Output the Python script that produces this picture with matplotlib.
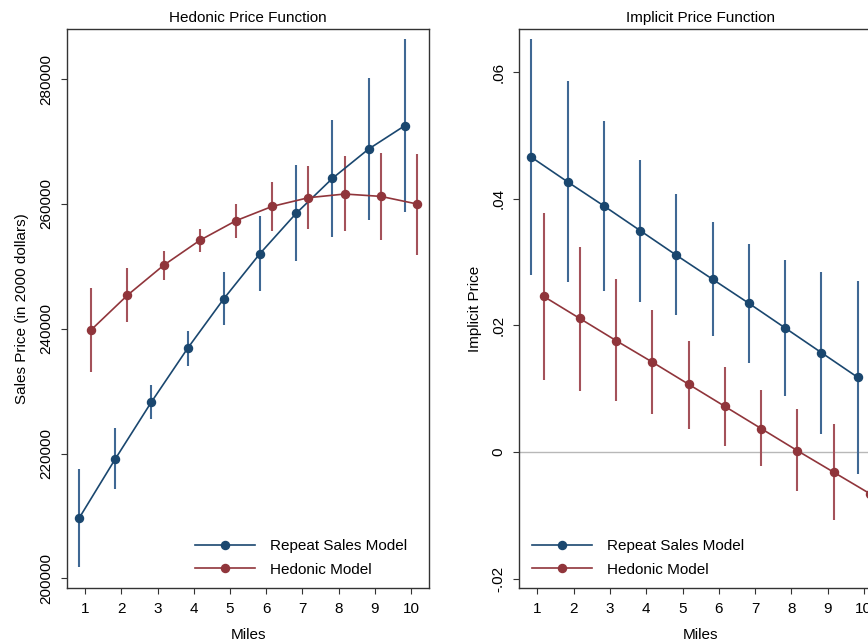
import matplotlib
matplotlib.use("Agg")
import matplotlib.pyplot as plt
import numpy as np

plt.rcParams['font.family'] = ['Liberation Sans', 'DejaVu Sans']

miles = [1, 2, 3, 4, 5, 6, 7, 8, 9, 10]

# Hedonic price function (left panel)
rs_price = [209600, 219100, 228250, 236850, 244800, 252050, 258500, 264100, 268800, 272550]
rs_price_lo = [201760, 214240, 225540, 234080, 240530, 246020, 250820, 254720, 257490, 258660]
rs_price_hi = [217500, 224050, 230980, 239570, 249060, 258020, 266240, 273490, 280210, 286450]
hd_price = [239840, 245380, 250180, 254180, 257330, 259620, 261010, 261600, 261220, 260000]
hd_price_lo = [233120, 241060, 247780, 252320, 254560, 255730, 256050, 255620, 254290, 251780]
hd_price_hi = [246610, 249700, 252530, 256000, 260050, 263570, 266130, 267620, 268160, 268050]

# Implicit price function (right panel)
rs_imp = [0.0466, 0.0427, 0.0389, 0.0350, 0.0311, 0.0273, 0.0235, 0.0196, 0.0157, 0.0118]
rs_imp_lo = [0.0280, 0.0268, 0.0255, 0.0237, 0.0216, 0.0184, 0.0141, 0.0089, 0.0029, -0.0034]
rs_imp_hi = [0.0653, 0.0587, 0.0523, 0.0462, 0.0408, 0.0363, 0.0328, 0.0303, 0.0284, 0.0270]
hd_imp = [0.0246, 0.0211, 0.0176, 0.0142, 0.0107, 0.0072, 0.0037, 0.0002, -0.0032, -0.0066]
hd_imp_lo = [0.0114, 0.0097, 0.0080, 0.0060, 0.0037, 0.0010, -0.0022, -0.0062, -0.0107, -0.0158]
hd_imp_hi = [0.0377, 0.0324, 0.0273, 0.0224, 0.0176, 0.0134, 0.0098, 0.0068, 0.0044, 0.0025]

left_yticks = [200000, 220000, 240000, 260000, 280000]
left_ylabels = ['200000', '220000', '240000', '260000', '280000']
right_yticks = [-0.02, 0, 0.02, 0.04, 0.06]
right_ylabels = ['-.02', '0', '.02', '.04', '.06']

BLUE = '#1a476f'
RED = '#90353b'
BLUE_E = '#3f6894'
RED_E = '#a4525a'
FS = 11

W, H = 868, 643
fig = plt.figure(figsize=(W / 100, H / 100), dpi=100)
fig.patch.set_facecolor('white')

ax1 = fig.add_axes([67 / W, 1 - 588 / H, 362 / W, 559 / H])
ax2 = fig.add_axes([519.3 / W, 1 - 588 / H, 362.7 / W, 559 / H])

off = 0.17
x = np.array(miles, dtype=float)


def draw(ax, rs, rs_lo, rs_hi, hd, hd_lo, hd_hi):
    ax.vlines(x - off, rs_lo, rs_hi, color=BLUE_E, lw=1.5, zorder=2)
    ax.vlines(x + off, hd_lo, hd_hi, color=RED_E, lw=1.5, zorder=2)
    ax.plot(x - off, rs, color=BLUE, lw=1.2, marker='o', ms=5.8, zorder=3,
            label='Repeat Sales Model')
    ax.plot(x + off, hd, color=RED, lw=1.2, marker='o', ms=5.8, zorder=3,
            label='Hedonic Model')
    ax.set_xlim(0.5, 10.5)
    ax.set_xticks(miles)
    ax.set_xticklabels([str(m) for m in miles], fontsize=FS)
    ax.set_xlabel('Miles', fontsize=FS, labelpad=9)
    for s in ax.spines.values():
        s.set_color('#333333')
        s.set_linewidth(1.0)
    ax.tick_params(direction='out', length=4, width=0.8, color='#333333', pad=6)


draw(ax1, rs_price, rs_price_lo, rs_price_hi, hd_price, hd_price_lo, hd_price_hi)
ax1.set_ylim(198450, 288050)
ax1.set_yticks(left_yticks)
ax1.set_yticklabels(left_ylabels, fontsize=FS, rotation=90, va='center')
ax1.set_ylabel('Sales Price (in 2000 dollars)', fontsize=FS, labelpad=7)
ax1.set_title('Hedonic Price Function', fontsize=FS, pad=5)

draw(ax2, rs_imp, rs_imp_lo, rs_imp_hi, hd_imp, hd_imp_lo, hd_imp_hi)
ax2.axhline(0, color='#b8b8b8', lw=1.0, zorder=1)
ax2.set_ylim(-0.02149, 0.06685)
ax2.set_yticks(right_yticks)
ax2.set_yticklabels(right_ylabels, fontsize=FS, rotation=90, va='center')
ax2.set_ylabel('Implicit Price', fontsize=FS, labelpad=7)
ax2.set_title('Implicit Price Function', fontsize=FS, pad=5)

for ax, lx in ((ax1, 0.354), (ax2, 0.035)):
    ax.legend(loc='lower left', bbox_to_anchor=(lx, 0.02), frameon=False,
              fontsize=FS, handlelength=3.9, handletextpad=1.0,
              labelspacing=0.65, borderpad=0, borderaxespad=0, numpoints=1)

fig.savefig('out.png', dpi=100)
